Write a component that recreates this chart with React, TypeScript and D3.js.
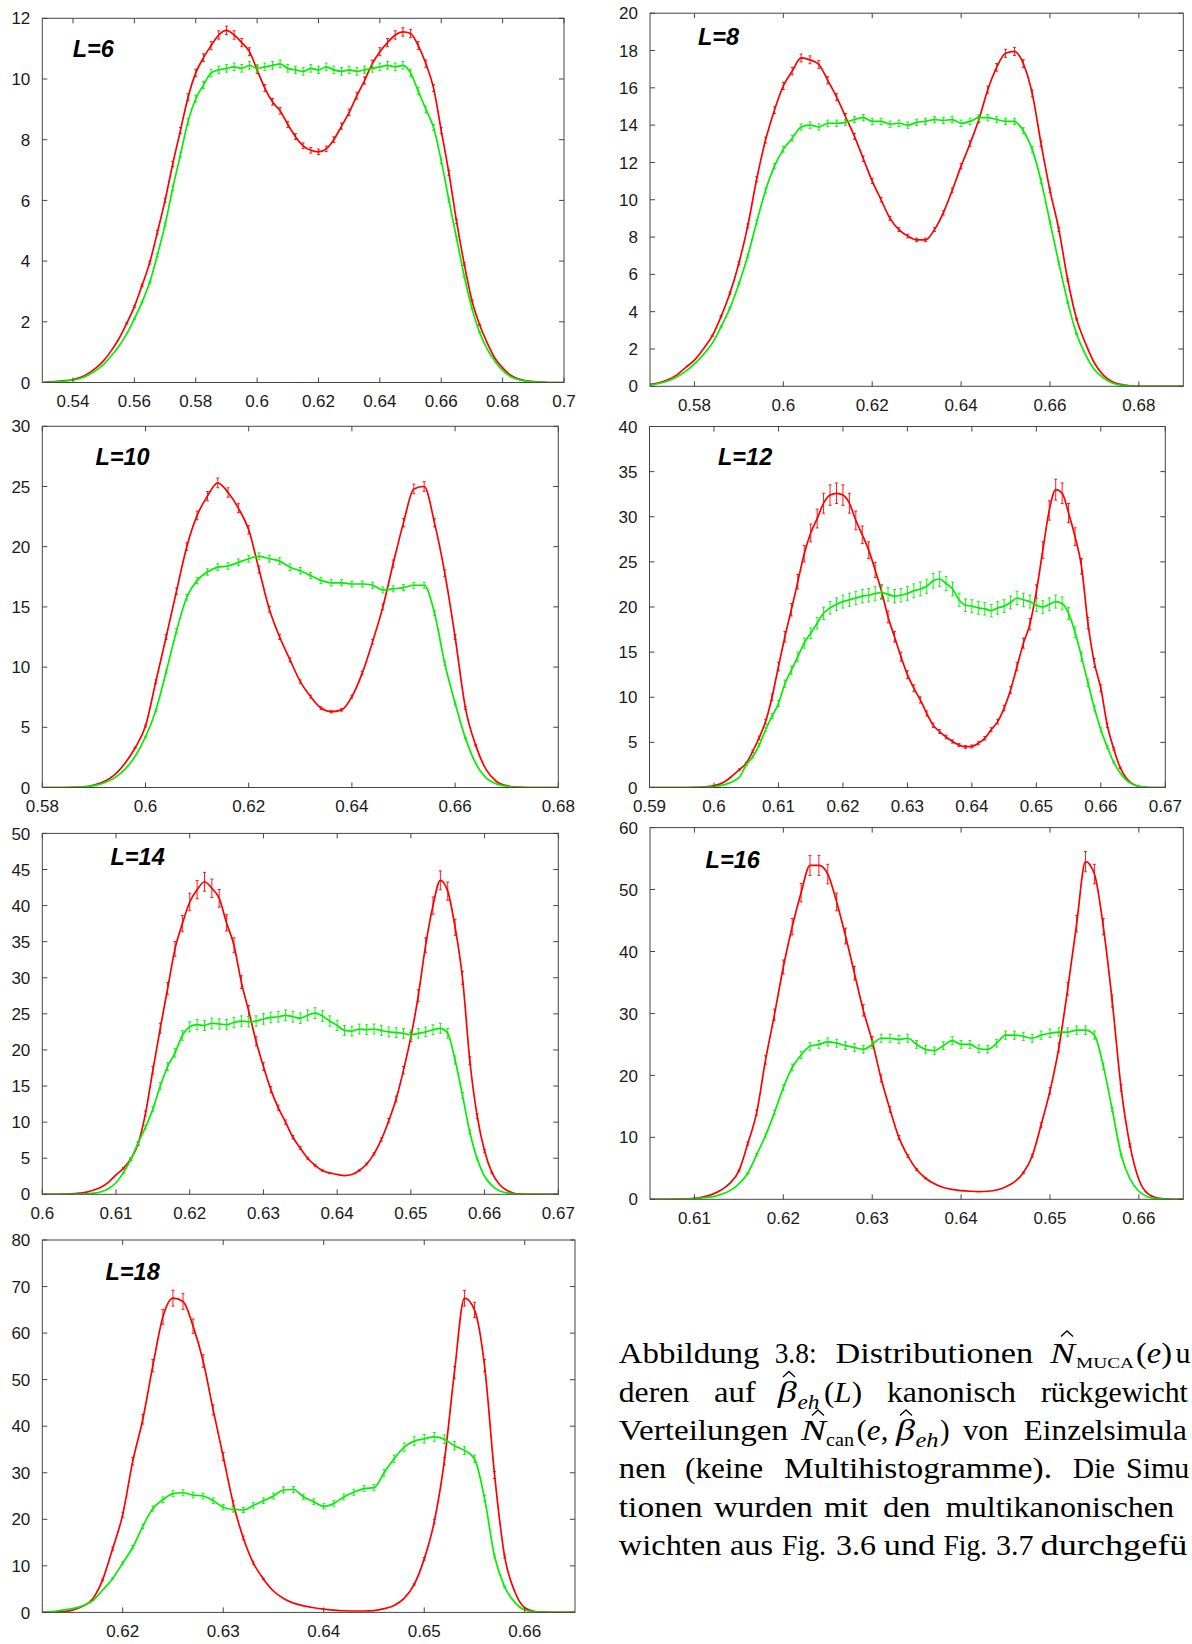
import React from "react";
import * as d3 from "d3";

// ---------------- data ----------------
// L=6 : x = 0.53 + i*0.0025
const L6_START = 0.53, L6_STEP = 0.0025;
const L6_RED = [0,0.02,0.04,0.06,0.1,0.17,0.3,0.48,0.72,1.05,1.45,1.95,2.5,3.2,3.95,4.95,6.0,7.2,8.3,9.4,10.2,10.7,11.1,11.45,11.6,11.45,11.2,10.9,10.3,9.7,9.25,8.95,8.5,8.1,7.8,7.65,7.6,7.7,8.0,8.45,8.9,9.45,9.95,10.5,10.9,11.2,11.45,11.55,11.5,11.1,10.5,9.7,8.3,6.9,5.3,3.9,2.7,1.9,1.3,0.8,0.48,0.25,0.12,0.06,0.03,0.01,0,0,0];
const L6_GREEN = [0,0.01,0.03,0.05,0.08,0.14,0.25,0.4,0.6,0.88,1.2,1.6,2.1,2.65,3.3,4.2,5.2,6.4,7.5,8.6,9.35,9.8,10.2,10.3,10.35,10.4,10.35,10.45,10.35,10.4,10.45,10.5,10.35,10.3,10.25,10.35,10.3,10.4,10.3,10.25,10.3,10.25,10.3,10.35,10.4,10.45,10.4,10.45,10.2,9.6,9.0,8.4,7.3,6.0,4.75,3.5,2.45,1.65,1.1,0.7,0.4,0.2,0.1,0.05,0.02,0.01,0,0,0];
const L6_XTICKS = [0.54,0.56,0.58,0.6,0.62,0.64,0.66,0.68,0.7];
const L6_YTICKS = [0,2,4,6,8,10,12];

// L=8 : x = 0.57 + i*0.002
const L8_START = 0.57, L8_STEP = 0.002;
const L8_RED = [0.1,0.18,0.35,0.6,1.0,1.4,2.0,2.7,3.75,5.0,6.6,8.6,11.1,13.2,14.8,16.1,16.9,17.6,17.5,17.25,16.4,15.5,14.45,13.4,12.2,11.0,10.0,9.0,8.4,8.05,7.85,7.85,8.4,9.3,10.5,11.8,13.0,14.3,15.9,17.1,17.85,17.95,17.3,15.7,13.0,10.5,8.4,5.7,3.6,2.3,1.25,0.6,0.25,0.1,0.03,0,0,0,0,0,0];
const L8_GREEN = [0.08,0.15,0.28,0.5,0.8,1.2,1.7,2.3,3.2,4.2,5.5,7.0,8.8,10.5,11.8,12.7,13.3,13.9,14.0,13.9,14.1,14.1,14.15,14.3,14.4,14.2,14.2,14.05,14.1,14.0,14.15,14.2,14.3,14.25,14.3,14.1,14.2,14.4,14.4,14.3,14.2,14.2,13.7,12.7,11.0,8.8,6.6,4.5,2.8,1.7,0.9,0.45,0.18,0.06,0.02,0,0,0,0,0,0];
const L8_XTICKS = [0.58,0.6,0.62,0.64,0.66,0.68];
const L8_YTICKS = [0,2,4,6,8,10,12,14,16,18,20];

// L=10 : x = 0.58 + i*0.002
const L10_START = 0.58, L10_STEP = 0.002;
const L10_RED = [0,0,0,0.02,0.05,0.2,0.5,1.05,2.0,3.3,5.1,8.8,12.5,16.3,20.0,22.6,24.2,25.3,24.5,23.2,21.4,18.1,14.8,12.5,10.6,8.8,7.55,6.6,6.3,6.45,7.55,9.5,12.1,15.0,18.6,22.0,24.8,25.0,22.0,17.8,12.5,6.6,3.5,1.5,0.5,0.15,0.03,0,0,0,0];
const L10_GREEN = [0,0,0,0.01,0.03,0.15,0.4,0.8,1.5,2.6,4.2,6.4,9.6,13.0,15.8,17.2,17.9,18.3,18.4,18.7,19.0,19.2,19.0,18.8,18.3,18.0,17.6,17.2,17.0,17.0,16.9,16.9,16.8,16.4,16.5,16.6,16.8,16.8,14.5,10.3,7.0,4.1,2.0,0.8,0.3,0.1,0.02,0,0,0,0];
const L10_XTICKS = [0.58,0.6,0.62,0.64,0.66,0.68];
const L10_YTICKS = [0,5,10,15,20,25,30];

// L=12 : x = 0.59 + i*0.001
const L12_START = 0.59, L12_STEP = 0.001;
const L12_RED = [0,0,0,0,0,0,0,0.02,0.05,0.1,0.2,0.4,0.8,1.4,2.0,2.7,4.0,5.5,7.3,10.0,13.4,16.7,19.7,22.8,25.9,28.2,29.8,31.5,32.4,32.6,32.4,31.5,29.6,28.0,26.3,24.1,21.7,18.9,16.7,14.5,12.5,11.0,9.7,8.2,6.9,6.2,5.6,5.1,4.7,4.5,4.55,4.9,5.45,6.4,7.3,8.8,10.8,13.4,16.0,18.1,21.7,26.3,30.7,33.0,32.6,30.4,27.8,24.5,18.2,13.8,11.0,6.9,4.3,2.2,1.0,0.35,0.1,0.03,0,0,0];
const L12_GREEN = [0,0,0,0,0,0,0,0,0.02,0.05,0.1,0.2,0.4,0.7,1.2,2.5,3.4,4.7,6.4,7.9,9.3,11.5,13.0,14.5,16.0,17.1,18.2,19.3,19.9,20.3,20.6,20.8,21.0,21.2,21.3,21.5,21.6,21.4,21.2,21.3,21.5,21.8,22.0,22.3,22.9,23.1,22.6,22.0,20.8,20.2,20.1,19.9,19.8,19.6,19.9,20.1,20.5,21.0,20.8,20.6,20.2,20.0,20.3,20.6,20.4,19.3,17.2,14.5,11.6,8.8,6.4,4.5,2.8,1.6,0.8,0.35,0.12,0.03,0,0,0];
const L12_XTICKS = [0.59,0.6,0.61,0.62,0.63,0.64,0.65,0.66,0.67];
const L12_YTICKS = [0,5,10,15,20,25,30,35,40];

// L=14 : x = 0.60 + i*0.001
const L14_START = 0.6, L14_STEP = 0.001;
const L14_RED = [0,0,0,0.02,0.05,0.15,0.3,0.6,1.0,1.7,2.7,3.6,4.9,7.0,11.2,17.2,23.0,28.5,34.0,37.5,40.5,42.2,43.3,42.4,41.0,37.6,34.5,29.4,25.4,21.2,17.7,14.5,12.0,10.0,7.9,6.4,5.0,4.0,3.3,2.95,2.75,2.6,2.75,3.3,4.2,5.6,7.6,10.2,13.2,17.2,21.8,27.5,34.5,40.0,43.5,42.0,37.0,30.0,18.5,10.8,6.0,3.0,1.4,0.55,0.15,0.04,0,0,0,0,0];
const L14_GREEN = [0,0,0,0,0.01,0.03,0.07,0.15,0.35,0.8,1.6,3.0,4.8,7.1,9.3,11.8,15.0,17.7,19.6,22.0,23.2,23.5,23.4,23.7,23.6,23.5,23.8,24.0,23.9,24.0,24.3,24.5,24.6,24.8,24.6,24.4,24.8,25.1,24.7,24.0,23.4,22.7,22.6,22.9,22.8,22.9,22.7,22.5,22.4,22.3,22.1,22.3,22.5,22.8,23.0,22.3,18.6,13.7,8.6,4.9,2.5,1.2,0.5,0.2,0.07,0.02,0,0,0,0,0];
const L14_XTICKS = [0.6,0.61,0.62,0.63,0.64,0.65,0.66,0.67];
const L14_YTICKS = [0,5,10,15,20,25,30,35,40,45,50];

// L=16 : x = 0.605 + i*0.001
const L16_START = 0.605, L16_STEP = 0.001;
const L16_RED = [0,0,0,0.02,0.05,0.15,0.4,0.8,1.5,2.6,4.6,9.0,14.0,22.5,29.8,37.5,44.0,49.5,53.9,53.9,52.5,48.0,42.5,36.5,30.5,25.5,19.5,14.5,10.0,7.0,4.8,3.4,2.5,1.9,1.6,1.4,1.3,1.25,1.3,1.5,2.0,2.8,4.3,7.0,12.0,17.5,24.5,34.0,44.5,54.5,52.5,44.0,32.0,18.0,8.7,3.2,0.9,0.25,0.06,0,0];
const L16_GREEN = [0,0,0,0.01,0.04,0.1,0.25,0.4,0.8,1.4,2.5,4.2,7.2,10.3,14.0,18.0,21.3,23.3,24.7,25.0,25.4,25.2,24.8,24.5,24.2,25.0,26.0,26.0,25.8,26.0,25.0,24.2,24.0,24.8,25.6,25.0,25.0,24.3,24.2,25.2,26.5,26.5,26.3,26.0,26.5,26.8,27.0,27.0,27.3,27.3,26.5,21.5,14.5,7.2,3.3,1.3,0.4,0.1,0.02,0,0];
const L16_XTICKS = [0.61,0.62,0.63,0.64,0.65,0.66];
const L16_YTICKS = [0,10,20,30,40,50,60];

// L=18 : x = 0.612 + i*0.001
const L18_START = 0.612, L18_STEP = 0.001;
const L18_RED = [0.02,0.05,0.15,0.5,1.3,2.9,7.0,13.7,21.0,32.5,41.5,53.0,63.5,67.5,66.8,61.5,54.0,43.5,33.5,23.4,16.0,10.6,7.2,4.6,3.0,2.0,1.4,1.0,0.7,0.5,0.35,0.3,0.3,0.4,0.8,1.5,3.0,6.0,11.5,19.5,32.5,51.5,67.5,65.0,53.0,29.5,12.0,4.5,1.0,0.2,0.05,0,0,0];
const L18_GREEN = [0.02,0.15,0.5,0.8,1.4,2.5,4.8,7.3,10.6,14.0,18.5,22.3,24.2,25.5,25.7,25.2,25.0,24.0,22.6,22.1,22.0,23.0,24.0,25.0,26.3,26.4,24.8,23.8,22.8,23.4,24.8,25.8,26.6,26.8,30.0,33.0,35.5,36.8,37.3,37.7,37.2,35.8,34.8,33.0,24.5,12.0,5.5,2.2,0.5,0.12,0.02,0,0,0];
const L18_XTICKS = [0.62,0.63,0.64,0.65,0.66];
const L18_YTICKS = [0,10,20,30,40,50,60,70,80];

// ---------------- layout ----------------
const PANELS = [
  { label: "L=6", start: L6_START, step: L6_STEP, red: L6_RED, green: L6_GREEN, xd: [0.53, 0.7], yMax: 12, xt: L6_XTICKS, yt: L6_YTICKS, box: [42.3, 564, 18.3, 382.5], lab: [72.7, 57.3], err: [0.012, 0.012] },
  { label: "L=8", start: L8_START, step: L8_STEP, red: L8_RED, green: L8_GREEN, xd: [0.57, 0.69], yMax: 20, xt: L8_XTICKS, yt: L8_YTICKS, box: [650, 1183.3, 13.2, 386.3], lab: [698, 45], err: [0.012, 0.012] },
  { label: "L=10", start: L10_START, step: L10_STEP, red: L10_RED, green: L10_GREEN, xd: [0.58, 0.68], yMax: 30, xt: L10_XTICKS, yt: L10_YTICKS, box: [42.3, 558.3, 426.3, 787.5], lab: [95.4, 465], err: [0.016, 0.015] },
  { label: "L=12", start: L12_START, step: L12_STEP, red: L12_RED, green: L12_GREEN, xd: [0.59, 0.67], yMax: 40, xt: L12_XTICKS, yt: L12_YTICKS, box: [649.5, 1165.3, 426.5, 787.5], lab: [718, 465], err: [0.035, 0.035] },
  { label: "L=14", start: L14_START, step: L14_STEP, red: L14_RED, green: L14_GREEN, xd: [0.6, 0.67], yMax: 50, xt: L14_XTICKS, yt: L14_YTICKS, box: [42.3, 558.3, 833.4, 1194.3], lab: [110.5, 865], err: [0.03, 0.03] },
  { label: "L=16", start: L16_START, step: L16_STEP, red: L16_RED, green: L16_GREEN, xd: [0.605, 0.665], yMax: 60, xt: L16_XTICKS, yt: L16_YTICKS, box: [650, 1183.3, 827.6, 1199.3], lab: [705.6, 868], err: [0.03, 0.025] },
  { label: "L=18", start: L18_START, step: L18_STEP, red: L18_RED, green: L18_GREEN, xd: [0.612, 0.665], yMax: 80, xt: L18_XTICKS, yt: L18_YTICKS, box: [42.3, 575, 1240, 1612.4], lab: [105.5, 1280], err: [0.025, 0.025] },
];

const SANS = "'Liberation Sans', Arial, Helvetica, sans-serif";
const SERIF = "'Liberation Serif', 'Times New Roman', serif";
const RED = "#ff0000";
const GREEN = "#00f000";
const FRAME = "#444";
const fmt = (v: number) => String(+v.toFixed(3));

function Series({ xs, vals, x, y, color, rel, id }: any) {
  const line = d3
    .line<number>()
    .x((_, i) => x(xs[i]))
    .y((v) => y(v))
    .curve(d3.curveMonotoneX);
  return (
    <g>
      <path d={line(vals) || ""} fill="none" stroke={color} strokeWidth={1.7} />
      {vals.map((v: number, i: number) => {
        const e = v * rel;
        const yt = y(v + e), yb = y(v - e);
        if (yb - yt < 1.2) return null;
        const cx = x(xs[i]);
        return (
          <g key={id + i} stroke={color} strokeWidth={0.9}>
            <line x1={cx} x2={cx} y1={yt} y2={yb} />
            <line x1={cx - 1.5} x2={cx + 1.5} y1={yt} y2={yt} />
            <line x1={cx - 1.5} x2={cx + 1.5} y1={yb} y2={yb} />
          </g>
        );
      })}
    </g>
  );
}

function Panel({ p, idx }: any) {
  const [x0, x1, y0, y1] = p.box;
  const x = d3.scaleLinear().domain(p.xd).range([x0, x1]);
  const y = d3.scaleLinear().domain([0, p.yMax]).range([y1, y0]);
  const xs = p.red.map((_: number, i: number) => p.start + i * p.step);
  const T = 5;
  const clipId = "clip" + idx;
  return (
    <g>
      <defs>
        <clipPath id={clipId}>
          <rect x={x0} y={y0 - 2} width={x1 - x0} height={y1 - y0 + 2} />
        </clipPath>
      </defs>
      <g clipPath={`url(#${clipId})`}>
        <Series xs={xs} vals={p.red} x={x} y={y} color={RED} rel={p.err[0]} id={"r" + idx} />
        <Series xs={xs} vals={p.green} x={x} y={y} color={GREEN} rel={p.err[1]} id={"g" + idx} />
      </g>
      <rect x={x0} y={y0} width={x1 - x0} height={y1 - y0} fill="none" stroke={FRAME} strokeWidth={1} />
      {p.xt.map((t: number) => (
        <g key={"xt" + t}>
          <line x1={x(t)} x2={x(t)} y1={y1} y2={y1 - T} stroke={FRAME} strokeWidth={1} />
          <line x1={x(t)} x2={x(t)} y1={y0} y2={y0 + T} stroke={FRAME} strokeWidth={1} />
          <text x={x(t)} y={y1 + 24.5} textAnchor="middle" fontFamily={SANS} fontSize={17} fill="#1a1a1a">
            {fmt(t)}
          </text>
        </g>
      ))}
      {p.yt.map((t: number) => (
        <g key={"yt" + t}>
          <line x1={x0} x2={x0 + T} y1={y(t)} y2={y(t)} stroke={FRAME} strokeWidth={1} />
          <line x1={x1} x2={x1 - T} y1={y(t)} y2={y(t)} stroke={FRAME} strokeWidth={1} />
          <text x={x0 - 12} y={y(t)} dy="0.36em" textAnchor="end" fontFamily={SANS} fontSize={17} fill="#1a1a1a">
            {t}
          </text>
        </g>
      ))}
      <text x={p.lab[0]} y={p.lab[1]} fontFamily={SANS} fontSize={23.5} fontWeight="bold" fontStyle="italic" fill="#000">
        {p.label}
      </text>
    </g>
  );
}

function Hat({ cx, top }: any) {
  return <path d={`M${cx - 6},${top + 5.5} L${cx},${top} L${cx + 6},${top + 5.5}`} fill="none" stroke="#000" strokeWidth={1.3} />;
}

function W({ x, y, w, children, size = 30, italic = false }: any) {
  return (
    <text x={x} y={y} fontFamily={SERIF} fontSize={size} fontStyle={italic ? "italic" : "normal"} textLength={w} lengthAdjust={w ? "spacingAndGlyphs" : undefined} fill="#000">
      {children}
    </text>
  );
}

function Caption() {
  const b = [1363, 1401.5, 1440, 1478.3, 1516.7, 1555];
  return (
    <g>
      {/* line 1 */}
      <W x={618.8} y={b[0]} w={140.7}>Abbildung</W>
      <W x={774.7} y={b[0]} w={41.8}>3.8:</W>
      <W x={835.5} y={b[0]} w={197.5}>Distributionen</W>
      <W x={1050} y={b[0]} w={25} italic>N</W>
      <Hat cx={1067} top={1331} />
      <W x={1076} y={b[0] + 5} w={58} size={15.5}>MUCA</W>
      <text x={1136} y={b[0]} fontFamily={SERIF} fontSize={30} textLength={36} lengthAdjust="spacingAndGlyphs">
        (<tspan fontStyle="italic">e</tspan>)
      </text>
      <W x={1175.5}  y={b[0]}>u</W>

      {/* line 2 */}
      <W x={618.8} y={b[1]} w={70.2}>deren</W>
      <W x={713.9} y={b[1]} w={41.8}>auf</W>
      <W x={777.7} y={b[1]} w={19} italic>β</W>
      <Hat cx={789} top={1371.5} />
      <W x={797.5} y={b[1] + 7} w={22} size={21} italic>eh</W>
      <text x={824} y={b[1]} fontFamily={SERIF} fontSize={30} textLength={38} lengthAdjust="spacingAndGlyphs">
        (<tspan fontStyle="italic">L</tspan>)
      </text>
      <W x={886.9} y={b[1]} w={129.1}>kanonisch</W>
      <W x={1040.9} y={b[1]} w={147}>rückgewicht</W>

      {/* line 3 */}
      <W x={618.8} y={b[2]} w={169.2}>Verteilungen</W>
      <W x={801} y={b[2]} w={25} italic>N</W>
      <Hat cx={818} top={1410} />
      <W x={826} y={b[2] + 6} w={28} size={18}>can</W>
      <text x={856.5} y={b[2]} fontFamily={SERIF} fontSize={30} textLength={32} lengthAdjust="spacingAndGlyphs">
        (<tspan fontStyle="italic">e</tspan>,
      </text>
      <W x={896} y={b[2]} w={19} italic>β</W>
      <Hat cx={906} top={1410} />
      <W x={915.4} y={b[2] + 7} w={23} size={21} italic>eh</W>
      <W x={940} y={b[2]} w={9.6}>)</W>
      <W x={963} y={b[2]} w={45.5}>von</W>
      <W x={1023.8} y={b[2]} w={163}>Einzelsimula</W>

      {/* line 4 */}
      <W x={618.8} y={b[3]} w={47.2}>nen</W>
      <W x={685} y={b[3]} w={78}>(keine</W>
      <W x={784} y={b[3]} w={268}>Multihistogramme).</W>
      <W x={1073} y={b[3]} w={42}>Die</W>
      <W x={1126}  y={b[3]}>Simu</W>

      {/* line 5 */}
      <W x={618.8} y={b[4]} w={83.7}>tionen</W>
      <W x={714} y={b[4]} w={98.7}>wurden</W>
      <W x={824} y={b[4]} w={44}>mit</W>
      <W x={883} y={b[4]} w={47.6}>den</W>
      <W x={945.8} y={b[4]} w={228.2}>multikanonischen</W>

      {/* line 6 */}
      <W x={618.8} y={b[5]} w={102.7}>wichten</W>
      <W x={730} y={b[5]} w={43}>aus</W>
      <W x={782} y={b[5]} w={44}>Fig.</W>
      <W x={836} y={b[5]} w={40}>3.6</W>
      <W x={883.8} y={b[5]} w={51.4}>und</W>
      <W x={943.5} y={b[5]} w={43.5}>Fig.</W>
      <W x={996} y={b[5]} w={37.5}>3.7</W>
      <W x={1040.5} y={b[5]} w={147}>durchgefü</W>
    </g>
  );
}

export default function App() {
  return (
    <svg
      width={1192}
      height={1644}
      viewBox="0 0 1192 1644"
      style={{ position: "absolute", left: 0, top: 0, background: "#fff" }}
    >
      <rect x={0} y={0} width={1192} height={1644} fill="#fff" />
      {PANELS.map((p, i) => (
        <Panel key={p.label} p={p} idx={i} />
      ))}
      <Caption />
    </svg>
  );
}
